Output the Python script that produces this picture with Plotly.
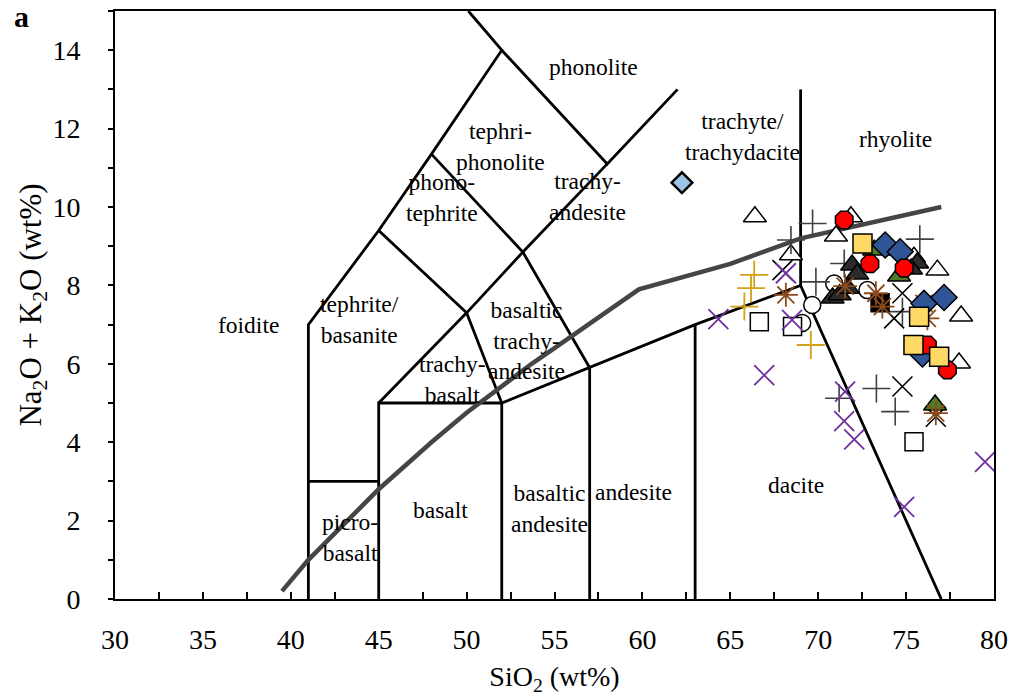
import plotly.graph_objects as go

# ---------------- data ----------------
# TAS field boundaries (SiO2, Na2O+K2O); None separates segments
bound_x = [41, 41, 45, 48, 52, 50.1, None,
           52, 58, 62, None,
           48, 53.2, 57, None,
           53.2, 58, None,
           45, 50, 52, None,
           50, 53.2, None,
           45, 50, None,
           45, 45, 52, 57, 63, 69, 77, None,
           52, 52, None, 57, 57, None, 63, 63, None, 41, 45, None, 69, 69]
bound_y = [0, 7, 9.4, 11.35, 14, 15, None,
           14, 11.1, 13, None,
           11.35, 8.85, 5.9, None,
           8.85, 11.1, None,
           9.4, 7.3, 5, None,
           7.3, 8.85, None,
           5, 7.3, None,
           0, 5, 5, 5.9, 7, 8, 0, None,
           0, 5, None, 0, 5.9, None, 0, 7, None, 3, 3, None, 8, 13]

# alkaline / subalkaline divide
div_x = [39.5, 41, 45, 48, 50, 53.7, 55, 59.8, 65, 69, 77]
div_y = [0.2, 1.0, 2.8, 4.0, 4.75, 6.0, 6.4, 7.9, 8.55, 9.2, 10.0]

# field names
field_names = ["phonolite", "tephri-<br>phonolite", "phono-<br>tephrite",
               "trachyte/<br>trachydacite", "rhyolite", "trachy-<br>andesite",
               "foidite", "tephrite/<br>basanite", "basaltic<br>trachy-<br>andesite",
               "trachy-<br>basalt", "basalt", "basaltic<br>andesite", "andesite",
               "dacite", "picro-<br>basalt"]
field_x = [57.2, 51.9, 48.6, 65.7, 74.4, 56.9, 37.6, 43.9, 53.4, 49.2, 48.5, 54.7, 59.5, 68.75, 43.35]
field_y = [13.57, 11.55, 10.24, 11.8, 11.73, 10.26, 6.99, 7.14, 6.6, 5.59, 2.27, 2.3, 2.73, 2.91, 1.58]

# samples
open_tri_x = [66.40, 71.01, 71.86, 68.45, 74.60, 75.45, 76.78, 78.13, 78.01]
open_tri_y = [9.75, 9.26, 9.75, 8.78, 8.90, 8.72, 8.39, 7.22, 6.02]

dark_tri_x = [71.93, 72.22, 75.63, 75.28, 70.82, 71.22, 71.68]
dark_tri_y = [8.52, 8.29, 8.57, 8.42, 7.68, 7.76, 7.93]

green_tri_x = [73.18, 74.60, 76.65]
green_tri_y = [8.90, 8.24, 4.95]

red_x = [71.48, 72.94, 74.89, 76.21, 77.35]
red_y = [9.67, 8.55, 8.44, 6.48, 5.84]

yellow_sq_x = [72.52, 75.74, 75.42, 76.88]
yellow_sq_y = [9.07, 7.20, 6.48, 6.18]

blue_dia_x = [73.81, 74.66, 76.02, 77.16, 75.93]
blue_dia_y = [9.03, 8.86, 7.54, 7.69, 6.25]

lblue_dia_x = [62.25]
lblue_dia_y = [10.62]

open_sq_x = [66.65, 68.54, 75.45]
open_sq_y = [7.07, 6.95, 4.01]

open_circ_x = [69.66, 69.09, 70.91, 72.80]
open_circ_y = [7.50, 7.04, 8.05, 7.88]

black_sq_x = [73.52]
black_sq_y = [7.56]

black_x_x = [67.97, 74.79, 74.32, 74.79, 76.69]
black_x_y = [8.39, 7.80, 7.16, 5.42, 4.65]

grey_plus_x = [69.68, 68.45, 69.87, 71.48, 75.78, 74.79, 71.19, 73.31, 74.38]
grey_plus_y = [9.58, 9.16, 8.09, 8.56, 9.18, 7.33, 5.12, 5.37, 4.78]

gold_plus_x = [66.36, 66.18, 65.80, 69.58]
gold_plus_y = [8.27, 7.93, 7.46, 6.48]

purple_x_x = [68.16, 68.51, 64.32, 66.93, 71.53, 71.48, 72.05, 79.49, 74.89]
purple_x_y = [8.31, 7.12, 7.14, 5.71, 5.29, 4.54, 4.07, 3.50, 2.35]

brown_x_x = [68.16, 71.53, 73.28, 73.65, 76.02, 76.21, 76.69]
brown_x_y = [7.76, 7.98, 7.80, 7.46, 7.54, 7.16, 4.74]

x_ticks = [30, 35, 40, 45, 50, 55, 60, 65, 70, 75, 80]
y_ticks = [0, 2, 4, 6, 8, 10, 12, 14]

# ---------------- figure ----------------
FONT = "Liberation Serif, Times New Roman, serif"
fig = go.Figure()

fig.add_trace(go.Scatter(x=bound_x, y=bound_y, mode="lines",
                         line=dict(color="black", width=2.8), hoverinfo="skip"))
fig.add_trace(go.Scatter(x=div_x, y=div_y, mode="lines",
                         line=dict(color="#454545", width=4.5), hoverinfo="skip"))


def pts(x, y, symbol, fill, line_color="black", lw=1.5, size=15):
    fig.add_trace(go.Scatter(x=x, y=y, mode="markers",
                             marker=dict(symbol=symbol, size=size, color=fill,
                                         line=dict(color=line_color, width=lw))))


pts(open_tri_x, open_tri_y, "triangle-up", "white", size=20)
pts(open_circ_x, open_circ_y, "circle", "white", size=17)
pts(open_sq_x, open_sq_y, "square", "white", size=18)
pts(grey_plus_x, grey_plus_y, "cross-thin-open", "#404040", "#404040", 1.6, 20)
pts(black_x_x, black_x_y, "x-thin-open", "black", "black", 1.6, 20)
pts(gold_plus_x, gold_plus_y, "cross-thin-open", "#d4a017", "#d4a017", 1.8, 20)
pts(purple_x_x, purple_x_y, "x-thin-open", "#7030a0", "#7030a0", 1.8, 20)
pts(dark_tri_x, dark_tri_y, "triangle-up", "#2b2b2b", size=20)
pts(green_tri_x, green_tri_y, "triangle-up", "#4f7a28", size=20)
pts(black_sq_x, black_sq_y, "square", "black", size=18)
pts(brown_x_x, brown_x_y, "asterisk-open", "#8b4a1a", "#8b4a1a", 1.8, 20)
pts(blue_dia_x, blue_dia_y, "diamond", "#2f5597", size=20)
pts(red_x, red_y, "octagon", "#ff0000", size=19)
pts(yellow_sq_x, yellow_sq_y, "square", "#ffd966", size=19)
pts(lblue_dia_x, lblue_dia_y, "diamond", "#9dc3e6", "black", 2.5, 16)

for name, fx, fy in zip(field_names, field_x, field_y):
    fig.add_annotation(x=fx, y=fy, xref="x", yref="y", text=name, showarrow=False,
                       font=dict(family=FONT, size=23.5, color="black"),
                       align="center")

fig.add_annotation(x=-0.106, y=0.99, xref="paper", yref="paper", text="<b>a</b>",
                   xanchor="center", yanchor="middle",
                   showarrow=False, font=dict(family=FONT, size=30, color="black"))

fig.update_layout(
    width=1012, height=697,
    margin=dict(l=115, r=18, t=11, b=98, autoexpand=False),
    paper_bgcolor="white", plot_bgcolor="white",
    showlegend=False,
    font=dict(family=FONT, color="black"),
    xaxis=dict(range=[30, 80], tickvals=x_ticks, showgrid=False, zeroline=False,
               automargin=False,
               showline=True, linecolor="black", linewidth=2, mirror=True,
               ticks="inside", ticklen=7, tickcolor="black", tickwidth=1.5,
               minor=dict(dtick=2.5, tick0=30, ticks="inside", ticklen=7,
                          tickcolor="black", tickwidth=1.5),
               tickfont=dict(family=FONT, size=28), ticklabelstandoff=14,
               title=dict(text="SiO<sub>2</sub> (wt%)",
                          font=dict(family=FONT, size=28), standoff=13)),
    yaxis=dict(range=[0, 15], tickvals=y_ticks, showgrid=False, zeroline=False,
               automargin=False,
               showline=True, linecolor="black", linewidth=2, mirror=True,
               ticks="outside", ticklen=5, tickcolor="black", tickwidth=1.5,
               minor=dict(dtick=1, tick0=0, ticks="outside", ticklen=5,
                          tickcolor="black", tickwidth=1.5),
               tickfont=dict(family=FONT, size=28), ticklabelstandoff=22,
               title=dict(text="Na<sub>2</sub>O + K<sub>2</sub>O (wt%)",
                          font=dict(family=FONT, size=31), standoff=0)),
)

fig.write_html("out.html")
